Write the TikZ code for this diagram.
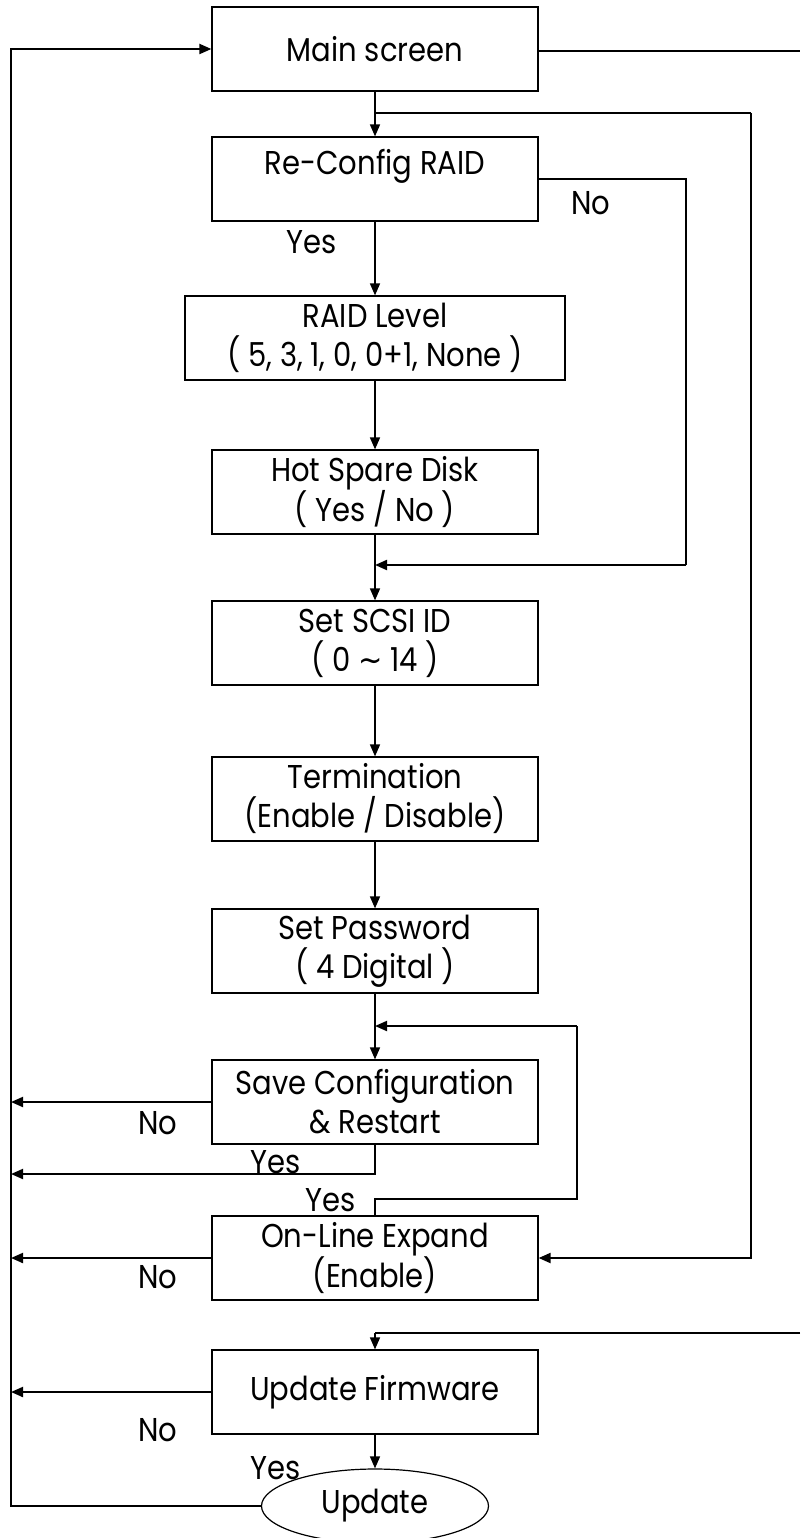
\documentclass[tikz,border=0pt]{standalone}
\usepackage{fontspec}
\setmainfont[FakeStretch=0.88]{Poppins}
\newfontfamily\dejavu[FakeStretch=0.88]{DejaVu Sans}
\usetikzlibrary{arrows.meta,shapes.geometric}
\begin{document}
\begin{tikzpicture}[x=1pt,y=-1pt,
  every node/.style={font=\fontsize{33}{39}\selectfont},
  box/.style={draw,line width=1.2pt,minimum width=326pt,minimum height=84pt,inner sep=0pt,align=center},
  thin/.style={line width=1.2pt},
  conn/.style={line width=1.5pt,-{Triangle[length=12pt,width=10pt]}},
  thick/.style={line width=2pt,-{Triangle[length=12pt,width=10pt]}},
  lbl/.style={inner sep=0pt}]
\useasboundingbox (0,0) rectangle (800,1538);
% boxes
\node[box] (main) at (375,49) {Main screen};
\node[box,label={[lbl,yshift=13pt]center:Re-Config RAID}] (rc) at (375,179) {};
\node[box,minimum width=380pt] (raid) at (375,338) {RAID Level\\( 5, 3, 1, 0, 0+1, None )};
\node[box] (hs) at (375,492) {Hot Spare Disk\\( Yes / No )};
\node[box] (scsi) at (375,643) {Set SCSI ID\\( 0 {\dejavu\char"223C} 14 )};
\node[box] (term) at (375,799) {Termination\\(Enable / Disable)};
\node[box] (pw) at (375,951) {Set Password\\( 4 Digital )};
\node[box] (save) at (375,1102) {Save Configuration\\\& Restart};
\node[box] (ol) at (375,1258) {On-Line Expand\\(Enable)};
\node[box] (fw) at (375,1392) {Update Firmware};
\node[draw,ellipse,line width=1.2pt,minimum width=227pt,minimum height=74pt,inner sep=0pt] (upd) at (375,1506) {Update};
% coordinates
\coordinate (L) at (11,49);
\coordinate (outR) at (800,51);
\coordinate (b1) at (375,113);
\coordinate (R1) at (751,113);
\coordinate (R2) at (686,179);
\coordinate (j1) at (375,565);
\coordinate (j2) at (375,1026);
\coordinate (R3) at (577,1199);
\coordinate (j3) at (375,1174);
\coordinate (inR) at (800,1333);
\coordinate (j4) at (375,1333);
% connectors
\draw[thick] (upd.west) -| (L) -- (main.west);
\draw[thin] (main.east |- outR) -- (outR);
\draw[conn] (main.south) -- (rc.north);
\draw[thin] (b1) -- (R1);
\draw[thick] (R1) |- (ol.east);
\draw[thin] (rc.east) -- (R2) -- (R2 |- j1);
\draw[thick] (R2 |- j1) -- (j1);
\draw[conn] (rc.south) -- (raid.north);
\draw[conn] (raid.south) -- (hs.north);
\draw[conn] (hs.south) -- (scsi.north);
\draw[conn] (scsi.south) -- (term.north);
\draw[conn] (term.south) -- (pw.north);
\draw[conn] (pw.south) -- (save.north);
\draw[thin] (ol.north) |- (R3) -- (R3 |- j2);
\draw[thick] (R3 |- j2) -- (j2);
\draw[thick] (save.west) -- (save.west -| L);
\draw[thick] (save.south) -- (j3) -- (j3 -| L);
\draw[thick] (ol.west) -- (ol.west -| L);
\draw[thin] (inR) -- (j4);
\draw[conn] (j4) -- (fw.north);
\draw[thick] (fw.west) -- (fw.west -| L);
\draw[conn] (fw.south) -- (upd.north);
% labels
\node[lbl] (lno1) at (591,203) {No};
\node[lbl] (lyes1) at (312,242) {Yes};
\node[lbl] (lno2) at (158,1123) {No};
\node[lbl] (lyes2) at (276,1162) {Yes};
\node[lbl] (lyes3) at (331,1200) {Yes};
\node[lbl] (lno3) at (158,1277) {No};
\node[lbl] (lno4) at (158,1430) {No};
\node[lbl] (lyes4) at (276,1468) {Yes};
\end{tikzpicture}
\end{document}
